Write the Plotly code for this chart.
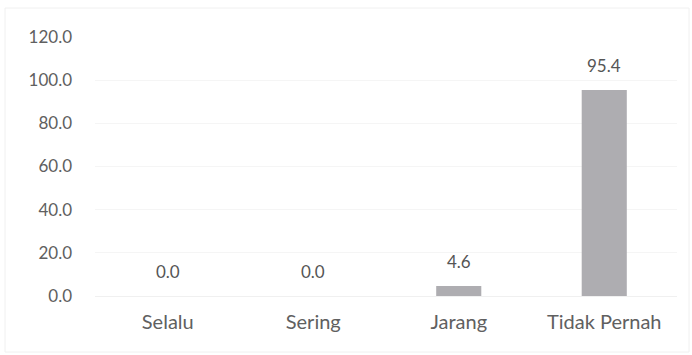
import plotly.graph_objects as go

categories = ["Selalu", "Sering", "Jarang", "Tidak Pernah"]
values = [0.0, 0.0, 4.6, 95.4]
y_ticks = [0, 20, 40, 60, 80, 100, 120]
y_tick_labels = [f"{v:.1f}" for v in y_ticks]

W, H = 692, 355
ML, MR, MT, MB = 95, 15, 37, 59
FONT = "Lato, 'Open Sans', sans-serif"

fig = go.Figure()
fig.add_trace(go.Bar(
    x=categories,
    y=values,
    marker=dict(color="#AEADB1", line=dict(width=0)),
    width=0.31,
    hoverinfo="skip",
))

# value labels above each bar
for c, v in zip(categories, values):
    fig.add_annotation(
        x=c, y=v, text=f"{v:.1f}", showarrow=False,
        yanchor="bottom", yshift=12,
        font=dict(family=FONT, size=17, color="#555555"),
    )

# light frame around the whole chart
fig.add_shape(
    type="rect", xref="paper", yref="paper",
    x0=(5 - ML) / (W - ML - MR), x1=(689 - ML) / (W - ML - MR),
    y0=-(352 - (H - MB)) / (H - MT - MB), y1=1 + (MT - 8) / (H - MT - MB),
    line=dict(color="#F0F0F0", width=1), fillcolor="rgba(0,0,0,0)", layer="below",
)

fig.update_layout(
    width=W, height=H,
    margin=dict(l=ML, r=MR, t=MT, b=MB),
    paper_bgcolor="white", plot_bgcolor="white",
    showlegend=False,
    bargap=0.69,
    font=dict(family=FONT, size=17, color="#606060"),
    xaxis=dict(
        showgrid=False, showline=True, linecolor="#F0F0F0", linewidth=1,
        ticks="", tickfont=dict(family=FONT, size=20, color="#606060"),
        ticklabelstandoff=8,
    ),
    yaxis=dict(
        range=[0, 120], tickvals=y_ticks, ticktext=y_tick_labels,
        showgrid=True, gridcolor="#F5F5F5", gridwidth=1,
        zeroline=False, showline=False, ticks="",
        tickfont=dict(family=FONT, size=17, color="#606060"),
        ticklabelstandoff=22,
    ),
)

fig.write_html("out.html")
